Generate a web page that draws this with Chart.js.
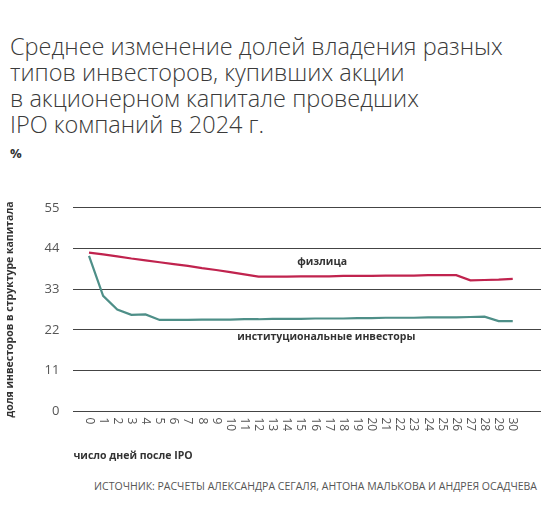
<!DOCTYPE html>
<html><head><meta charset="utf-8">
<script src="https://cdn.jsdelivr.net/npm/chart.js@4"></script>
<style>
body{margin:0;background:#fff;font-family:"Open Sans",sans-serif;}
#title{position:absolute;left:10px;top:33px;font-size:23.5px;line-height:26px;color:#3a3a3a;font-weight:300;}
#pct{position:absolute;left:10px;top:144px;font-size:13px;font-weight:700;color:#333;}
#src{position:absolute;right:12px;top:479px;font-size:10.5px;color:#555;}
#wrap{position:absolute;left:0;top:186px;width:549px;height:280px;}
</style></head><body>
<div id="title">Среднее изменение долей владения разных<br>типов инвесторов, купивших акции<br>в акционерном капитале проведших<br>IPO компаний в 2024 г.</div>
<div id="pct">%</div>
<div id="wrap"><canvas id="c"></canvas></div>
<div id="src">ИСТОЧНИК: РАСЧЕТЫ АЛЕКСАНДРА СЕГАЛЯ, АНТОНА МАЛЬКОВА И АНДРЕЯ ОСАДЧЕВА</div>
<script>
var days = [0,1,2,3,4,5,6,7,8,9,10,11,12,13,14,15,16,17,18,19,20,21,22,23,24,25,26,27,28,29,30];
var physical = [42.9,42.4,41.9,41.3,40.8,40.3,39.8,39.3,38.7,38.2,37.6,37.0,36.4,36.4,36.4,36.5,36.5,36.5,36.6,36.6,36.6,36.7,36.7,36.7,36.8,36.8,36.8,35.4,35.5,35.6,35.8];
var institutional = [42.0,31.2,27.5,26.1,26.2,24.7,24.7,24.7,24.8,24.8,24.8,24.9,24.9,25.0,25.0,25.0,25.1,25.1,25.1,25.2,25.2,25.3,25.3,25.3,25.4,25.4,25.4,25.5,25.6,24.4,24.4];
var yTicks = [0,11,22,33,44,55];

function pts(arr){ return arr.map(function(v,i){ return {x: days[i], y: v}; }); }

var labelPlugin = {
  id: 'lbl',
  afterDatasetsDraw: function(chart){
    var ctx = chart.ctx, x = chart.scales.x, y = chart.scales.y;
    ctx.save();
    ctx.font = 'bold 10.5px "Open Sans"';
    ctx.fillStyle = '#333';
    ctx.textAlign = 'center';
    ctx.fillText('физлица', x.getPixelForValue(16.5), y.getPixelForValue(39.5));
    ctx.fillText('институциональные инвесторы', x.getPixelForValue(16.8), y.getPixelForValue(19.2));
    // day labels, rotated clockwise
    ctx.font = '12px "Open Sans"';
    ctx.fillStyle = '#555';
    ctx.textAlign = 'left';
    ctx.textBaseline = 'middle';
    var top = y.getPixelForValue(0) + 6;
    days.forEach(function(d){
      ctx.save();
      ctx.translate(x.getPixelForValue(d), top);
      ctx.rotate(Math.PI / 2);
      ctx.fillText(String(d), 0, 0);
      ctx.restore();
    });
    ctx.restore();
  }
};

new Chart(document.getElementById('c'), {
  type: 'line',
  data: { datasets: [
    { data: pts(physical), borderColor: '#c0234e', borderWidth: 2.2, pointRadius: 0, tension: 0 },
    { data: pts(institutional), borderColor: '#4e8f88', borderWidth: 2.2, pointRadius: 0, tension: 0 }
  ]},
  options: {
    responsive: true, maintainAspectRatio: false, animation: false,
    layout: { padding: { left: 0, right: 8, top: 8 } },
    plugins: { legend: { display: false }, tooltip: { enabled: false } },
    scales: {
      x: {
        type: 'linear', min: -1.1, max: 32,
        ticks: { display: false },
        grid: { display: false },
        border: { display: false },
        title: { display: true, text: 'число дней после IPO', align: 'start', color: '#333', font: { size: 10.5, weight: 'bold', family: '"Open Sans"' }, padding: { left: 60, top: 30 } }
      },
      y: {
        min: 0, max: 55,
        afterBuildTicks: function(s){ s.ticks = yTicks.map(function(v){ return {value: v}; }); },
        ticks: { color: '#555', font: { size: 13, family: '"Open Sans"' }, padding: 14 },
        grid: { color: '#444', lineWidth: 1, drawTicks: false },
        border: { display: false },
        title: { display: true, text: 'доля инвесторов в структуре капитала', color: '#333', font: { size: 10.5, weight: 'bold', family: '"Open Sans"' }, padding: { bottom: 14 } }
      }
    }
  },
  plugins: [labelPlugin]
});
</script>
</body></html>
